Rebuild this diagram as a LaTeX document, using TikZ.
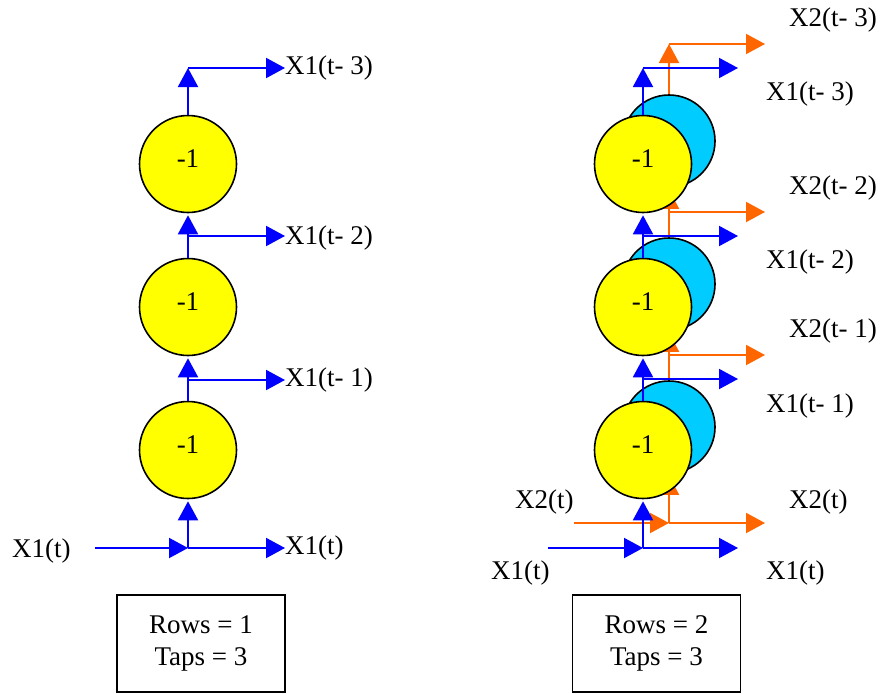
\documentclass[tikz,border=0pt]{standalone}
\usepackage{fontspec}
\setmainfont{Liberation Serif}
\usetikzlibrary{arrows.meta}
\definecolor{sigblue}{RGB}{0,0,255}
\definecolor{sigorange}{RGB}{255,102,0}
\definecolor{dyellow}{RGB}{255,255,0}
\definecolor{dcyan}{RGB}{0,204,255}

\begin{document}
\begin{tikzpicture}[x=1pt,y=-1pt,>={Triangle[length=19pt,width=20pt]},
    every node/.style={font=\fontsize{27}{32}\selectfont},
    delay/.style={circle,draw,line width=1.6pt,fill=dyellow,minimum size=97pt,inner sep=0pt,text height=18pt,text depth=12pt},
    shadow/.style={circle,draw,line width=1.6pt,fill=dcyan,minimum size=92pt,inner sep=0pt},
    sig/.style={->,line width=2pt,sigblue},
    sigx/.style={->,line width=2pt,sigorange},
    lbl/.style={anchor=west,inner sep=0pt},
    info/.style={draw,line width=1.5pt,minimum width=168pt,minimum height=97pt,align=center}]
    \useasboundingbox (0,0) rectangle (882,693);

    % one row
    \node[delay] (a1) at (188,450) {-1};
    \node[delay] (a2) at (188,307) {-1};
    \node[delay] (a3) at (188,164) {-1};
    \coordinate (ain) at (95,548);
    \coordinate (aj0) at (188,548);
    \coordinate (aj1) at (188,380);
    \coordinate (aj2) at (188,236);
    \coordinate (aj3) at (188,68);
    \node[lbl] (lin) at (12,551) {X1(t)};
    \node[lbl] (la0) at (285,548) {X1(t)};
    \node[lbl] (la1) at (285,380) {X1(t- 1)};
    \node[lbl] (la2) at (285,238) {X1(t- 2)};
    \node[lbl] (la3) at (285,68) {X1(t- 3)};

    \draw[sig] (ain) -- (aj0);
    \draw[sig] (aj0) -- (la0.west);
    \draw[sig,shorten >=2pt] (aj0) -- (a1.south);
    \draw[sig,-] (a1.north) -- (aj1);
    \draw[sig] (aj1) -- (la1.west |- aj1);
    \draw[sig,shorten >=2pt] (aj1) -- (a2.south);
    \draw[sig,-] (a2.north) -- (aj2);
    \draw[sig] (aj2) -- (la2.west |- aj2);
    \draw[sig,shorten >=2pt] (aj2) -- (a3.south);
    \draw[sig] (a3.north) -- (aj3);
    \draw[sig] (aj3) -- (la3.west |- aj3);

    \node[info] (r1) at (201,643.5) {Rows = 1\\Taps = 3};

    % two rows
    \node[shadow] (c1) at (669,427) {};
    \node[shadow] (c2) at (669,284) {};
    \node[shadow] (c3) at (669,141) {};
    \coordinate (oin) at (574,523);
    \coordinate (oj0) at (669,523);
    \coordinate (oj1) at (669,355);
    \coordinate (oj2) at (669,212);
    \coordinate (oj3) at (669,44);
    \coordinate (oo0) at (765,523);
    \coordinate (oo1) at (765,355);
    \coordinate (oo2) at (765,212);
    \coordinate (oo3) at (765,44);

    \draw[sigx] (oin) -- (oj0);
    \draw[sigx] (oj0) -- (oo0);
    \draw[sigx,shorten >=2pt] (oj0) -- (c1.south);
    \draw[sigx,-] (c1.north) -- (oj1);
    \draw[sigx] (oj1) -- (oo1);
    \draw[sigx,shorten >=2pt] (oj1) -- (c2.south);
    \draw[sigx,-] (c2.north) -- (oj2);
    \draw[sigx] (oj2) -- (oo2);
    \draw[sigx,shorten >=2pt] (oj2) -- (c3.south);
    \draw[sigx] (c3.north) -- (oj3);
    \draw[sigx] (oj3) -- (oo3);

    \node[delay] (b1) at (643,450) {-1};
    \node[delay] (b2) at (643,307) {-1};
    \node[delay] (b3) at (643,164) {-1};
    \coordinate (bin) at (548,548);
    \coordinate (bj0) at (643,548);
    \coordinate (bj1) at (643,379);
    \coordinate (bj2) at (643,236);
    \coordinate (bj3) at (643,68);
    \coordinate (bo0) at (738,548);
    \coordinate (bo1) at (738,379);
    \coordinate (bo2) at (738,236);
    \coordinate (bo3) at (738,68);

    \draw[sig] (bin) -- (bj0);
    \draw[sig] (bj0) -- (bo0);
    \draw[sig,shorten >=2pt] (bj0) -- (b1.south);
    \draw[sig,-] (b1.north) -- (bj1);
    \draw[sig] (bj1) -- (bo1);
    \draw[sig,shorten >=2pt] (bj1) -- (b2.south);
    \draw[sig,-] (b2.north) -- (bj2);
    \draw[sig] (bj2) -- (bo2);
    \draw[sig,shorten >=2pt] (bj2) -- (b3.south);
    \draw[sig] (b3.north) -- (bj3);
    \draw[sig] (bj3) -- (bo3);

    \node[lbl] (lx2) at (515,502) {X2(t)};
    \node[lbl] (lx1) at (491,573) {X1(t)};
    \node[lbl] (lb0) at (766,573) {X1(t)};
    \node[lbl] (lb1) at (766,406) {X1(t- 1)};
    \node[lbl] (lb2) at (766,262) {X1(t- 2)};
    \node[lbl] (lb3) at (766,94) {X1(t- 3)};
    \node[lbl] (lo0) at (789,502) {X2(t)};
    \node[lbl] (lo1) at (789,331) {X2(t- 1)};
    \node[lbl] (lo2) at (789,188) {X2(t- 2)};
    \node[lbl] (lo3) at (789,20) {X2(t- 3)};

    \node[info] (r2) at (656.5,643.5) {Rows = 2\\Taps = 3};
\end{tikzpicture}
\end{document}
